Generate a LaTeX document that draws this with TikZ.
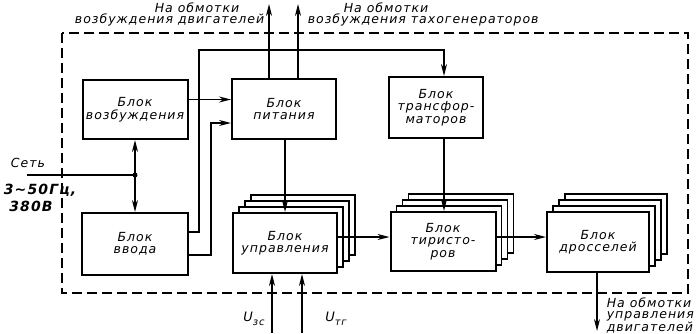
\documentclass[tikz,border=0pt]{standalone}
\usepackage{fontspec}
\setmainfont{DejaVu Sans}[LetterSpace=8]
\usetikzlibrary{arrows.meta}

\begin{document}
\begin{tikzpicture}[
  x=1pt, y=-1pt,
  >={Stealth[length=12pt,width=6pt]},
  line width=1.6pt,
  font=\itshape\fontsize{12.5}{12.5}\selectfont,
  blok/.style={draw, line width=2pt, fill=white, minimum width=104pt,
    minimum height=60pt, align=center, inner sep=2pt},
  nadpis/.style={inner sep=0pt, font=\itshape\fontsize{12.5}{11}\selectfont},
  tochka/.style={circle, fill, inner sep=0pt, minimum size=5pt}
]
  \useasboundingbox (0,0) rectangle (700,333);

  % dashed frame of the cabinet
  \draw[dash pattern=on 10pt off 5pt, line width=1.4pt] (62,33) rectangle (688,293);

  % stacked copies behind the channel blocks
  \foreach \cx/\cy/\w/\h in {285/243/104pt/60pt, 443/241.5/105pt/59pt, 598/242/102pt/60pt}
    \foreach \k in {3,2,1}
      \node[blok, line width=1.6pt, minimum width=\w, minimum height=\h] at (\cx+6*\k, \cy-6*\k) {};

  \node[blok, minimum width=105pt, minimum height=59pt] (vozb) at (135,109.5) {Блок\\возбуждения};
  \node[blok] (pit) at (284,109) {Блок\\питания};
  \node[blok, minimum width=94pt, minimum height=61pt] (trans) at (436,107.5) {Блок\\трансфор-\\маторов};
  \node[blok, minimum width=106pt, minimum height=62pt] (vvod) at (135,244) {Блок\\ввода};
  \node[blok] (upr) at (285,243) {Блок\\управления};
  \node[blok, minimum width=105pt, minimum height=59pt] (tir) at (443,241.5) {Блок\\тиристо-\\ров};
  \node[blok, minimum width=102pt] (drs) at (598,242) {Блок\\дросселей};

  % free ends
  \coordinate (set) at (27,175);
  \coordinate (knee) at (199,50);
  \coordinate (vyh1) at (269,4);
  \coordinate (vyh2) at (298,4);
  \coordinate (vyh3) at (597,331);
  \coordinate (uzs) at (272,333);
  \coordinate (utg) at (302,333);

  % connections
  \draw (set) -- (set -| vozb.south) node[tochka] {};
  \draw[<->] (vozb.south) -- (vvod.north);
  \draw[->] ([yshift=10pt]vozb.east) -- ([yshift=10pt]vozb.east -| pit.west);
  \draw[->] ([yshift=-11pt]vvod.east) -| ([xshift=-20pt,yshift=-14pt]pit.west) -- ([yshift=-14pt]pit.west);
  \draw[->] ([yshift=12pt]vvod.east) -| (knee) -| ([xshift=8pt]trans.north);
  \draw[->] (vyh1 |- pit.north) -- (vyh1);
  \draw[->] (vyh2 |- pit.north) -- (vyh2);
  \draw[->] (pit.south -| upr.north) -- (upr.north);
  \draw[->] ([xshift=8pt]trans.south) -- ([xshift=8pt]trans.south |- tir.north);
  \draw[->] ([yshift=6pt]upr.east) -- ([yshift=6pt]upr.east -| tir.west);
  \draw[->] ([yshift=4.5pt]tir.east) -- ([yshift=4.5pt]tir.east -| drs.west);
  \draw[->] (drs.south -| vyh3) -- (vyh3);
  \draw[->] (uzs) -- (uzs |- upr.south);
  \draw[->] (utg) -- (utg |- upr.south);

  % labels
  \node[nadpis, align=right, anchor=north east] (nad1) at (265,1.5) {На обмотки\hspace*{25pt}\\возбуждения двигателей};
  \node[nadpis, align=left, anchor=north west] (nad2) at (307,1.5) {\hspace*{36pt}На обмотки\\возбуждения тахогенераторов};
  \node[nadpis, align=left, anchor=north west] (nad3) at (606,296.5) {На обмотки\\управления\\двигателей};
  \node (lset) at (28,163) {Сеть};
  \node[font=\bfseries\itshape\fontsize{14}{14}\selectfont] (lset2) at (40,190) {3\textasciitilde 50Гц,};
  \node[font=\bfseries\itshape\fontsize{14}{14}\selectfont] (lset3) at (31,206) {380В};
  \node (luzs) at (254,319) {\fontsize{13}{13}\selectfont U\raisebox{-3.5pt}{\fontsize{10}{10}\selectfont зс}};
  \node (lutg) at (336,319) {\fontsize{13}{13}\selectfont U\raisebox{-3.5pt}{\fontsize{10}{10}\selectfont тг}};
\end{tikzpicture}
\end{document}
